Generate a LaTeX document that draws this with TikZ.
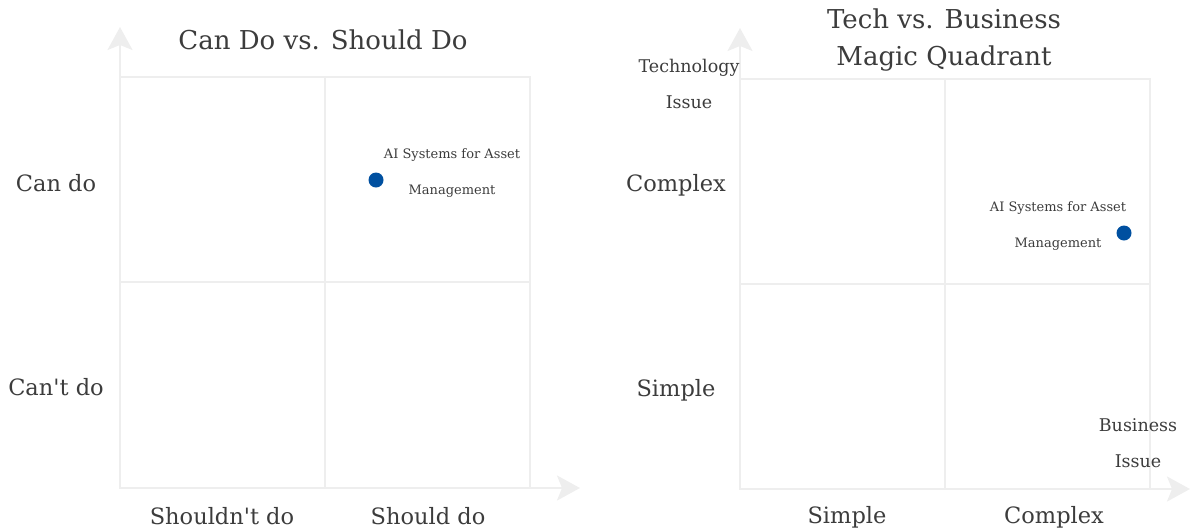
\documentclass[tikz,border=0pt]{standalone}
\usepackage{fontspec}
\setmainfont{DejaVu Serif}
\usetikzlibrary{arrows.meta}
\definecolor{gridgrey}{HTML}{EEEEEE}
\definecolor{textgrey}{HTML}{3C3C3C}
\definecolor{dotblue}{HTML}{0050A0}
\begin{document}
\begin{tikzpicture}[x=1pt,y=-1pt]
        \tikzstyle{grid}=[draw=gridgrey,line width=2.5pt]
        \tikzstyle{axis}=[draw=gridgrey,line width=2.5pt,-{Stealth[length=23pt,width=25pt,inset=5pt]}]
        \tikzstyle{title}=[text=textgrey,align=center,font=\fontsize{26}{37}\selectfont]
        \tikzstyle{axislabel}=[text=textgrey,align=center,font=\fontsize{22.5}{36}\selectfont]
        \tikzstyle{endlabel}=[text=textgrey,align=center,font=\fontsize{17.5}{36}\selectfont]
        \tikzstyle{itemlabel}=[text=textgrey,align=center,font=\fontsize{13}{36}\selectfont]
        \tikzstyle{item}=[circle,fill=dotblue,inner sep=0pt,minimum size=15pt]
        \useasboundingbox (0,0) rectangle (1190,531);
       \begin{scope}
         % can do vs. should do
         \coordinate (o1) at (120,488);
         \coordinate (ytip1) at (120,27);
         \coordinate (xtip1) at (580,488);
         \path[grid] (120,77) rectangle (530,488);
         \path[grid] (325,77) -- (325,488);
         \path[grid] (120,282) -- (530,282);
         \path[axis] (o1) -- (ytip1);
         \path[axis] (o1) -- (xtip1);

         \node [title] (t1) at (323,40) {Can Do vs. Should Do};
         \node [axislabel] (cando) at (56,183) {Can do};
         \node [axislabel] (cantdo) at (56,387) {Can\textquotesingle t do};
         \node [axislabel] (shouldnt) at (222,516) {Shouldn\textquotesingle t do};
         \node [axislabel] (should) at (428,516) {Should do};
         \node [item] (ai1) at (376,180) {};
         \node [itemlabel] (ai1lbl) at (452,173) {AI Systems for Asset\\Management};
       \end{scope}
       \begin{scope}
         % tech vs. business
         \coordinate (o2) at (740,489);
         \coordinate (ytip2) at (740,28);
         \coordinate (xtip2) at (1190,489);
         \path[grid] (740,79) rectangle (1150,489);
         \path[grid] (945,79) -- (945,489);
         \path[grid] (740,284) -- (1150,284);
         \path[axis] (o2) -- (ytip2);
         \path[axis] (o2) -- (xtip2);

         \node [title] (t2) at (944,40) {Tech vs. Business\\Magic Quadrant};
         \node [endlabel] (tech) at (689,84) {Technology\\Issue};
         \node [axislabel] (complexy) at (676,185) {Complex};
         \node [axislabel] (simpley) at (676,390) {Simple};
         \node [endlabel] (biz) at (1138,443) {Business\\Issue};
         \node [axislabel] (simplex) at (847,517) {Simple};
         \node [axislabel] (complexx) at (1054,517) {Complex};
         \node [item] (ai2) at (1124,233) {};
         \node [itemlabel] (ai2lbl) at (1058,226) {AI Systems for Asset\\Management};
       \end{scope}
\end{tikzpicture}
\end{document}
